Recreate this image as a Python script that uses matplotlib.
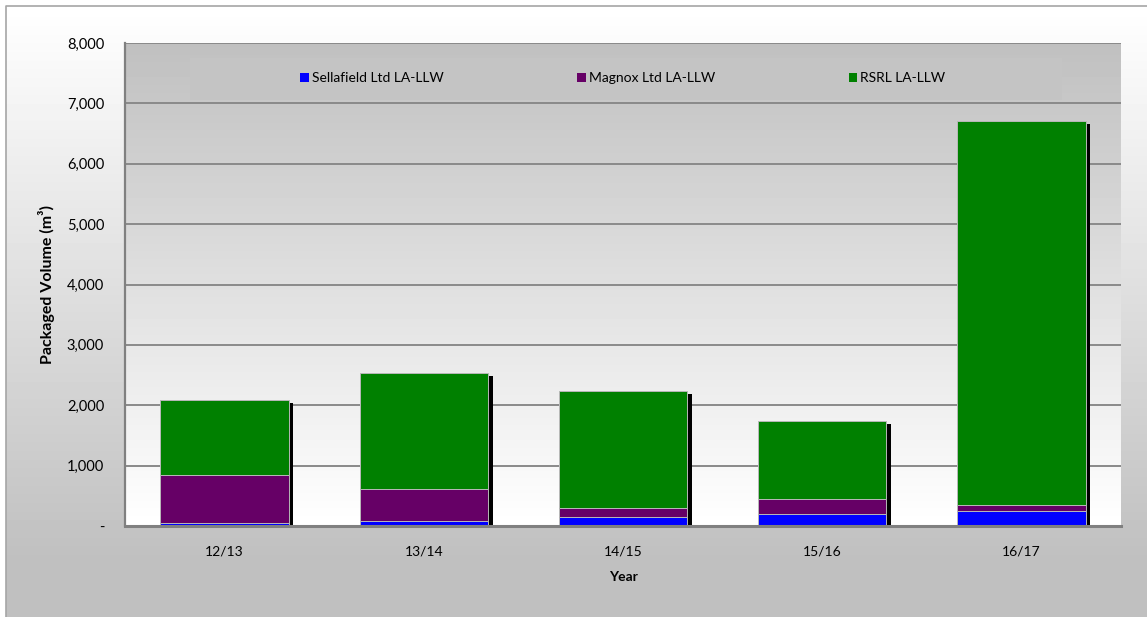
import numpy as np
import matplotlib
matplotlib.use("Agg")
import matplotlib.pyplot as plt
from matplotlib.patches import Patch, Rectangle
from matplotlib.transforms import offset_copy

plt.rcParams['font.family'] = ['Lato', 'DejaVu Sans']

# packaged LA-LLW volumes (m3) per financial year
years = ['12/13', '13/14', '14/15', '15/16', '16/17']
sellafield = [45, 90, 145, 195, 245]
magnox = [805, 530, 155, 250, 100]
rsrl = [1240, 1920, 1930, 1290, 6365]

series = ['Sellafield Ltd LA-LLW', 'Magnox Ltd LA-LLW', 'RSRL LA-LLW']
colours = ['#0000ff', '#660066', '#008000']

W, H = 1147, 617
fig = plt.figure(figsize=(W / 100, H / 100), dpi=100)
fig.patch.set_facecolor('white')

# chart area background: white fading to grey towards the bottom
bg = fig.add_axes([0, 0, 1, 1], zorder=-10)
bg.set_xlim(0, W)
bg.set_ylim(H, 0)
bg.axis('off')
grad = np.linspace(255, 192, 100)[:, None] / 255.0
bg.imshow(np.repeat(grad, 2, axis=1), cmap='gray', vmin=0, vmax=1,
          extent=[6, W, 560, 6], aspect='auto', interpolation='bilinear')
bg.add_patch(Rectangle((6, 560), W - 6, H - 560, color='#c0c0c0', lw=0))
bg.plot([6, 6, W], [H, 6, 6], color='#a6a6a6', lw=1.2)

ax = fig.add_axes([125 / W, 1 - 526 / H, (1121 - 125) / W, (526 - 43) / H])
ax.set_xlim(-0.5, len(years) - 0.5)
ax.set_ylim(0, 8000)

# plot wall: grey at the top, white at the bottom
wall = np.linspace(192, 255, 100)[:, None] / 255.0
ax.imshow(np.repeat(wall, 2, axis=1), cmap='gray', vmin=0, vmax=1,
          extent=[-0.5, len(years) - 0.5, 0, 8000], aspect='auto',
          interpolation='bilinear', zorder=0)
ax.set_yticks(np.arange(0, 8001, 1000))
ax.yaxis.grid(True, color='#8a8a8a', lw=1.4, zorder=1)
ax.set_axisbelow(True)

# faint legend panel across the top of the wall
ax.add_patch(Rectangle(((190 - 125) / 996, (526 - 100) / 483),
                       (1062 - 190) / 996, 42 / 483,
                       transform=ax.transAxes, facecolor='#c4c4c4',
                       edgecolor='none', zorder=1.5))

x = np.arange(len(years))
width = 0.645
shadow_tr = offset_copy(ax.transData, fig=fig, x=4.5, y=-3, units='dots')

bottom = np.zeros(len(years))
for vals, col, name in zip([sellafield, magnox, rsrl], colours, series):
    ax.bar(x, vals, width, bottom=bottom, color='black', lw=0,
           transform=shadow_tr, zorder=2)
    ax.bar(x, vals, width, bottom=bottom, color=col, edgecolor='#b8b8b8',
           lw=0.7, label=name, zorder=3)
    bottom += np.array(vals)

ax.set_xticks(x)
ax.set_xticklabels(years, fontsize=10)
ax.set_yticklabels(['-'] + [f'{v:,}' for v in range(1000, 8001, 1000)],
                   fontsize=10.5)
ax.tick_params(axis='both', length=0)
ax.tick_params(axis='y', pad=15)
ax.tick_params(axis='x', pad=14)

for s in ['right', 'top']:
    ax.spines[s].set_visible(False)
ax.spines['left'].set_color('#808080')
ax.spines['left'].set_linewidth(1.6)
ax.spines['bottom'].set_color('#808080')
ax.spines['bottom'].set_linewidth(2.2)
ax.spines['bottom'].set_zorder(4)

ax.set_xlabel('Year', fontsize=10, fontweight='bold', labelpad=10)
ax.set_ylabel('Packaged Volume (m³)', fontsize=11.5, fontweight='bold')
ax.yaxis.set_label_coords(-70 / 996, 0.5)

handles = [Patch(facecolor=c, edgecolor='none') for c in colours]
leg = ax.legend(handles, series, loc='center', ncol=3,
                bbox_to_anchor=(0.5, (526 - 78) / 483), fontsize=10,
                handlelength=0.6, handleheight=0.6, handletextpad=0.25,
                columnspacing=9.6, frameon=False)
leg.set_zorder(5)

fig.savefig('out.png', dpi=100)
